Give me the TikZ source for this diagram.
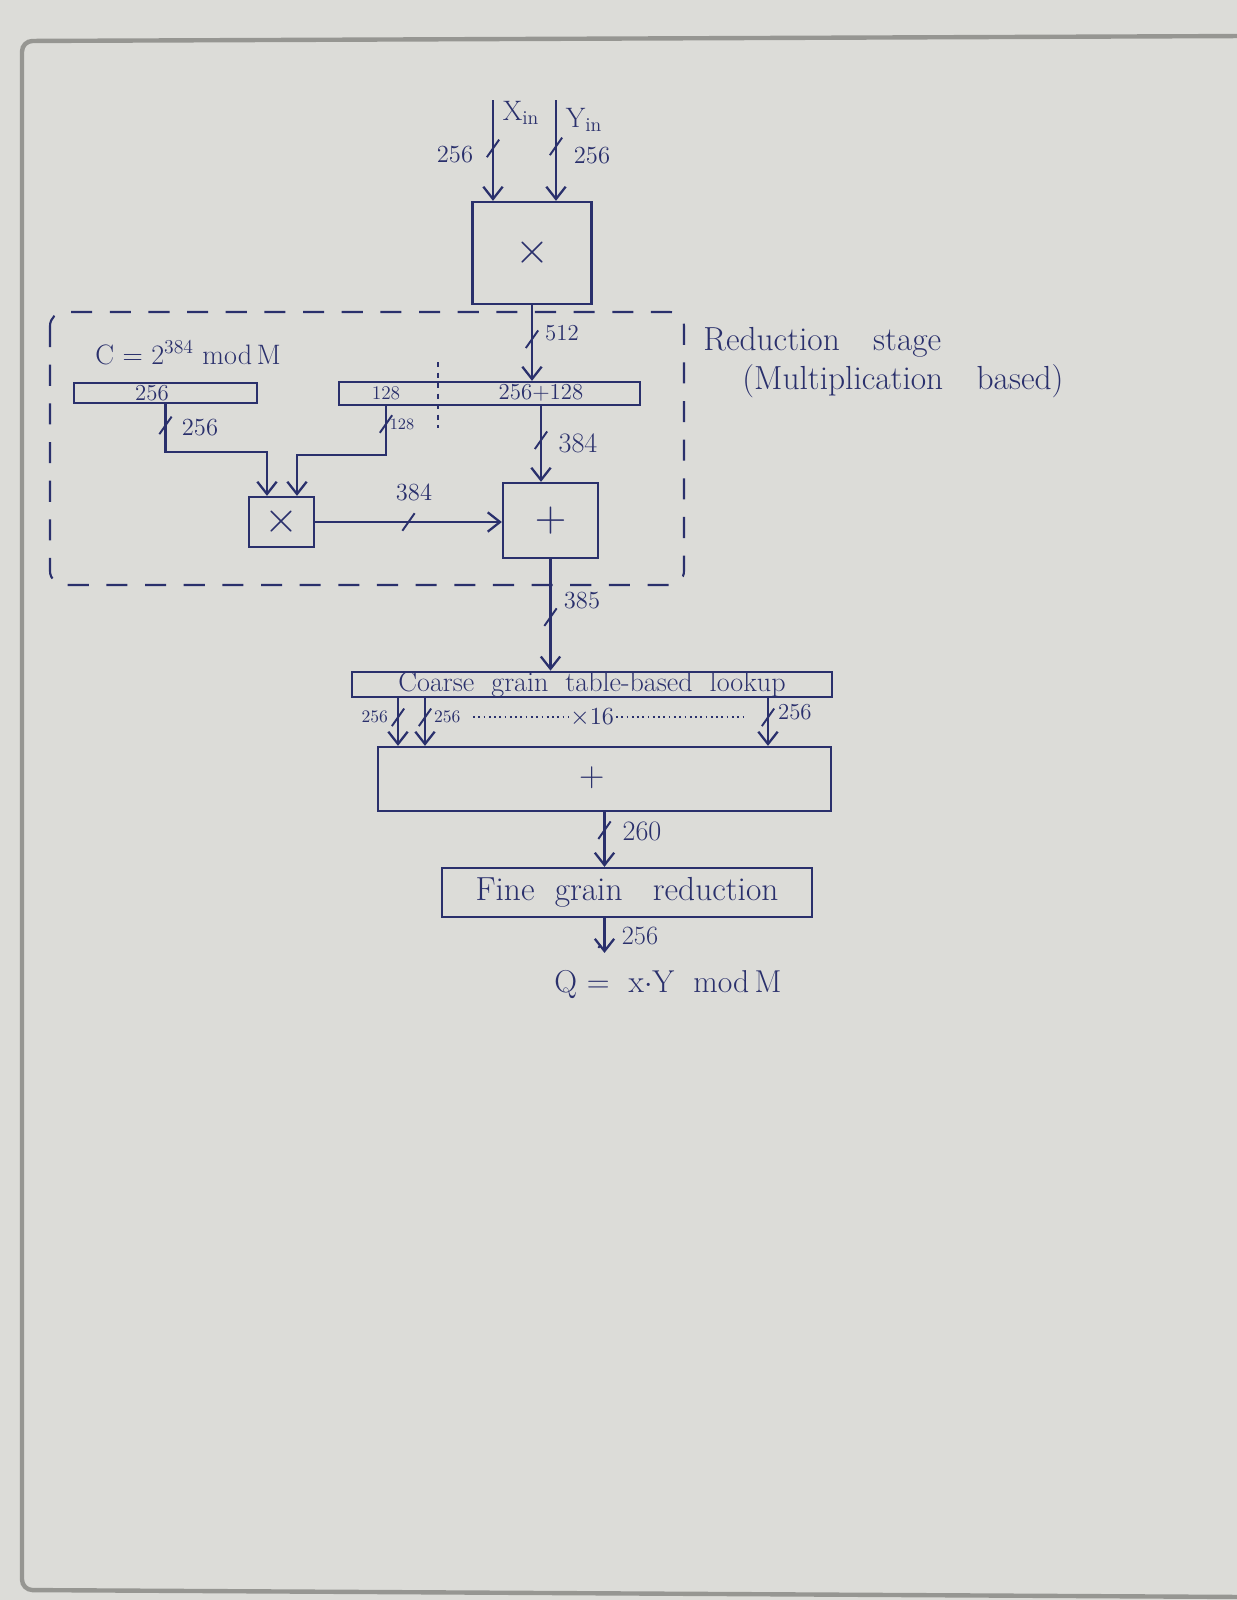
\documentclass[tikz,border=0pt]{standalone}
\usepackage{tikz}
\usetikzlibrary{arrows.meta,decorations.markings}
\definecolor{ink}{RGB}{42,48,108}
\definecolor{paper}{RGB}{220,220,216}
\definecolor{frameline}{RGB}{150,150,146}
\tikzset{
	blk/.style={draw=ink, line width=1.3pt, inner sep=0pt, text=ink},
	wire/.style={draw=ink, line width=1.3pt, -{Straight Barb[length=7pt,width=11pt]}},
	rail/.style={draw=ink, line width=1.3pt},
	busmark/.style={postaction={decorate, decoration={markings,
		mark=at position #1 with {\pgftransformresetnontranslations
			\draw[ink, line width=1.1pt, -] (-3.5pt,-5pt) -- (3.5pt,5pt);}}}},
	lbl/.style={text=ink, inner sep=1pt, font=\fontsize{13}{13}\selectfont},
	txt/.style={text=ink, inner sep=0pt, font=\fontsize{19}{19}\selectfont},
}

\begin{document}
\begin{tikzpicture}[x=0.02cm,y=-0.02cm]
	\fill[paper] (0,0) rectangle (1237,1600);
	\useasboundingbox (0,0) rectangle (1237,1600);
	\draw[frameline, line width=2.5pt, rounded corners=6pt] (1245,36) -- (22,41) -- (22,1590) -- (1245,1597);
	% first multiplier
	\node[blk, minimum width=2.38cm, minimum height=2.04cm] (mul) at (532,253) {\fontsize{36}{36}\selectfont$\times$};
	\coordinate (xin) at (493,100);
	\coordinate (yin) at (556,100);
	\node[txt, font=\fontsize{16}{16}\selectfont] (xlab) at (521,113) {X\textsubscript{in}};
	\node[txt, font=\fontsize{16}{16}\selectfont] (ylab) at (584,120) {Y\textsubscript{in}};
	\draw[wire, busmark=0.48] (xin) -- (xin |- mul.north);
	\draw[wire, busmark=0.46] (yin) -- (yin |- mul.north);
	\node[lbl, font=\fontsize{14}{14}\selectfont] (xw) at (455,155) {256};
	\node[lbl, font=\fontsize{14}{14}\selectfont] (yw) at (592,156) {256};
	% reduction stage
	\draw[ink, line width=1.2pt, dash pattern=on 12pt off 10pt, rounded corners=8pt] (50,312) rectangle (684,585);
	\node[txt, anchor=west] (redlab) at (703,342) {Reduction\quad stage};
	\node[txt, anchor=west] (redsub) at (742,381) {(Multiplication\quad based)};
	\node[blk, minimum width=6.02cm, minimum height=0.46cm] (regx) at (489.5,393.5) {};
	\node[lbl, font=\fontsize{11}{11}\selectfont] (hi128) at (386,393) {128};
	\node[lbl] (lo384) at (541,393) {256+128};
	\draw[ink, line width=1pt, dashed] (438,362) -- (438,428);
	\draw[wire, busmark=0.45] (mul.south) -- (mul.south |- regx.north);
	\node[lbl] (w512) at (562,333) {512};
	\node[txt, font=\fontsize{16}{16}\selectfont] (clab) at (188,353) {C = 2\textsuperscript{384} mod\,M};
	\node[blk, minimum width=3.66cm, minimum height=0.4cm] (regc) at (165.5,393) {};
	\node[lbl] (c256) at (152,393) {256};
	\node[blk, minimum width=1.3cm, minimum height=1.0cm] (mulc) at (281.5,522) {\fontsize{24}{24}\selectfont$\times$};
	\node[blk, minimum width=1.9cm, minimum height=1.5cm] (add) at (550.5,520.5) {\fontsize{30}{30}\selectfont$+$};
	\coordinate (bend1) at (267,452);
	\coordinate (bend2) at (297,455);
	\draw[wire, busmark=0.11] (regc.south) |- (bend1) -- (bend1 |- mulc.north);
	\node[lbl, font=\fontsize{14}{14}\selectfont] (w256) at (200,428) {256};
	\draw[wire, busmark=0.1] (hi128 |- regx.south) |- (bend2) -- (bend2 |- mulc.north);
	\node[lbl, font=\fontsize{9}{9}\selectfont] (w128) at (402,424) {128};
	\draw[wire, busmark=0.45] (lo384 |- regx.south) -- (lo384 |- add.north);
	\node[lbl, font=\fontsize{16}{16}\selectfont] (w384a) at (578,443) {384};
	\draw[wire, busmark=0.5] (mulc.east) -- (mulc.east -| add.west);
	\node[lbl, font=\fontsize{14}{14}\selectfont] (w384b) at (414,492) {384};
	% table lookup and final reduction
	\node[blk, minimum width=9.6cm, minimum height=0.5cm, font=\fontsize{16}{16}\selectfont] (coarse) at (592,684.5) {Coarse\ \ grain\ \ table-based\ \ lookup};
	\node[blk, minimum width=9.06cm, minimum height=1.28cm] (addw) at (604.5,779) {};
	\node[txt, font=\fontsize{20}{20}\selectfont] (plus) at (592,778) {+};
	\draw[wire, busmark=0.52] (add.south) -- (add.south |- coarse.north);
	\node[lbl, font=\fontsize{14}{14}\selectfont] (w385) at (582,601) {385};
	\foreach \xx in {398,425,768}
		\draw[wire, busmark=0.4] (\xx,0 |- coarse.south) -- (\xx,0 |- addw.north);
	\node[lbl, font=\fontsize{10}{10}\selectfont, anchor=east] (o1) at (390,717) {256};
	\node[lbl, font=\fontsize{10}{10}\selectfont, anchor=west] (o2) at (432,717) {256};
	\node[lbl, font=\fontsize{13}{13}\selectfont, anchor=west] (o16) at (776,712) {256};
	\node[lbl, font=\fontsize{14}{14}\selectfont] (x16) at (592,717) {$\times$16};
	\coordinate (dotl) at (473,717);
	\coordinate (dotr) at (743,717);
	\draw[ink, line width=1pt, dotted] (dotl) -- (x16.west);
	\draw[ink, line width=1pt, dotted] (x16.east) -- (dotr);
	\node[blk, minimum width=7.4cm, minimum height=0.98cm, font=\fontsize{19}{19}\selectfont] (fine) at (627,892.5) {Fine\ \ grain\ \ \ reduction\hspace{0.6cm}};
	\draw[wire, busmark=0.33] (addw.south) -- (addw.south |- fine.north);
	\node[lbl, font=\fontsize{16}{16}\selectfont] (w260) at (642,831) {260};
	\node[txt, font=\fontsize{18}{18}\selectfont] (result) at (668,985) {Q =\ \ x$\cdot$Y\ \ mod\,M};
	\draw[wire, busmark=0.4, shorten >=10pt] (addw.south |- fine.south) -- (addw.south |- result.north);
	\node[lbl, font=\fontsize{15}{15}\selectfont] (w256o) at (640,936) {256};
\end{tikzpicture}
\end{document}
